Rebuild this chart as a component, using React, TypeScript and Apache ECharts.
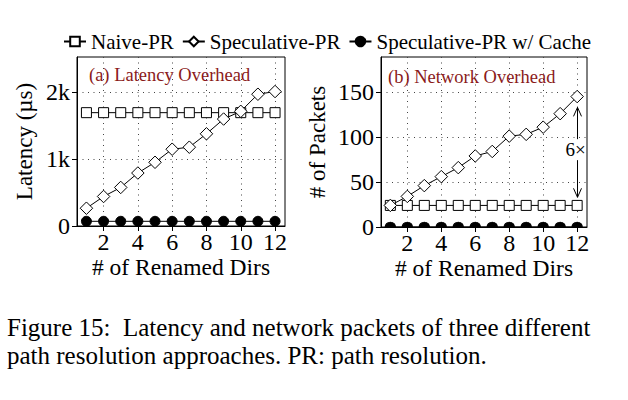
import React, { useEffect, useRef } from "react";
import * as echarts from "echarts";

const dirs = [1, 2, 3, 4, 5, 6, 7, 8, 9, 10, 11, 12];
const latencyNaive = [1690, 1690, 1690, 1690, 1690, 1690, 1690, 1690, 1690, 1690, 1690, 1690];
const latencySpec = [265, 440, 575, 790, 950, 1145, 1175, 1375, 1595, 1710, 1965, 2005];
const latencyCache = [70, 70, 70, 70, 70, 70, 70, 70, 70, 70, 70, 70];
const packetsNaive = [24, 24, 24, 24, 24, 24, 24, 24, 24, 24, 24, 24];
const packetsSpec = [24, 34, 46, 56, 66, 79, 84, 101, 103, 111, 126, 145];
const packetsCache = [0, 0, 0, 0, 0, 0, 0, 0, 0, 0, 0, 0];
const xTicks = [2, 4, 6, 8, 10, 12];
const latencyTicks = [0, 1000, 2000];
const packetTicks = [0, 50, 100, 150];
const seriesNames = ["Naive-PR", "Speculative-PR", "Speculative-PR w/ Cache"];
const panelTitles = ["(a) Latency Overhead", "(b) Network Overhead"];
const yNames = ["Latency (\u00b5s)", "# of Packets"];
const xName = "# of Renamed Dirs";
const arrowX = 12;
const arrowTop = 133;
const arrowBottom = 33;
const ratioY = 86;
const ratioLabel = "6\u00d7";
const captionLines = [
  "Figure 15:\u00a0 Latency and network packets of three different",
  "path resolution approaches. PR: path resolution.",
];

const FONT = "'Liberation Serif', 'Times New Roman', serif";
const HALF_CIRCLE = "path://M0,10A10,10,0,0,1,20,10Z";

function pairs(vals: number[]) {
  return dirs.map((d, i) => [d, vals[i]]);
}

function hollow(name: string, gi: number, vals: number[], symbol: string, size: number) {
  return {
    type: "line",
    name,
    xAxisIndex: gi,
    yAxisIndex: gi,
    data: pairs(vals),
    symbol,
    symbolSize: size,
    showAllSymbol: true,
    lineStyle: { color: "#000", width: 1 },
    itemStyle: { color: "#fff", borderColor: "#000", borderWidth: 1 },
    emphasis: { disabled: true },
  };
}

function filled(name: string, gi: number, vals: number[], symbol: string, size: any, offset: any) {
  return {
    type: "line",
    name,
    xAxisIndex: gi,
    yAxisIndex: gi,
    data: pairs(vals),
    symbol,
    symbolSize: size,
    symbolOffset: offset,
    showAllSymbol: true,
    lineStyle: { color: "#000", width: 1 },
    itemStyle: { color: "#000", borderColor: "#000", borderWidth: 1 },
    emphasis: { disabled: true },
  };
}

function xAxisFor(gi: number) {
  return {
    type: "value",
    gridIndex: gi,
    min: 0.45,
    max: 12.58,
    name: xName,
    nameLocation: "middle",
    nameGap: 29,
    nameTextStyle: { fontFamily: FONT, fontSize: 23.5, color: "#000" },
    axisLine: { show: true, lineStyle: { color: "#000", width: 1 } },
    axisTick: { show: true, customValues: xTicks, length: 5, lineStyle: { color: "#000" } },
    axisLabel: { customValues: xTicks, fontFamily: FONT, fontSize: 24, color: "#000", margin: 4 },
    splitLine: { show: true, lineStyle: { color: "#444", type: [1, 4.5], width: 1 } },
  };
}

function yAxisFor(gi: number, max: number, ticks: number[], name: string, gap: number, fmt: any) {
  return {
    type: "value",
    gridIndex: gi,
    min: 0,
    max,
    name,
    nameLocation: "middle",
    nameGap: gap,
    nameRotate: 90,
    nameTextStyle: { fontFamily: FONT, fontSize: 23, color: "#000" },
    axisLine: { show: true, lineStyle: { color: "#000", width: 1 } },
    axisTick: { show: true, customValues: ticks, length: 5, lineStyle: { color: "#000" } },
    axisLabel: { customValues: ticks, formatter: fmt, fontFamily: FONT, fontSize: 24, color: "#000", margin: 7 },
    splitLine: { show: true, lineStyle: { color: "#444", type: [1, 4.5], width: 1 } },
  };
}

export default function App() {
  const ref = useRef<HTMLDivElement>(null);
  useEffect(() => {
    if (!ref.current) return;
    const chart = echarts.init(ref.current, null, { renderer: "svg" });
    chart.setOption({
      animation: false,
      backgroundColor: "#fff",
      legend: {
        left: 63,
        top: 31,
        itemWidth: 22,
        itemHeight: 12,
        itemGap: 8,
        padding: 0,
        data: seriesNames,
        textStyle: { fontFamily: FONT, fontSize: 21, color: "#000" },
      },
      title: [
        {
          text: panelTitles[0],
          left: 89,
          top: 65,
          padding: 0,
          textStyle: { fontFamily: FONT, fontSize: 18.5, fontWeight: "normal", color: "#8b1a1a" },
        },
        {
          text: panelTitles[1],
          left: 388,
          top: 67,
          padding: 0,
          textStyle: { fontFamily: FONT, fontSize: 18.5, fontWeight: "normal", color: "#8b1a1a" },
        },
      ],
      grid: [
        { left: 77, top: 57, width: 208, height: 169, show: true, borderColor: "#000", borderWidth: 1, backgroundColor: "transparent" },
        { left: 381, top: 57, width: 206, height: 170, show: true, borderColor: "#000", borderWidth: 1, backgroundColor: "transparent" },
      ],
      xAxis: [xAxisFor(0), xAxisFor(1)],
      yAxis: [
        yAxisFor(0, 2520, latencyTicks, yNames[0], 41, (v: number) => (v === 0 ? "0" : v / 1000 + "k")),
        yAxisFor(1, 189, packetTicks, yNames[1], 52, (v: number) => String(v)),
      ],
      series: [
        hollow(seriesNames[0], 0, latencyNaive, "rect", 10),
        hollow(seriesNames[1], 0, latencySpec, "diamond", 12.5),
        filled(seriesNames[2], 0, latencyCache, "circle", 10, [0, 0]),
        hollow(seriesNames[0], 1, packetsNaive, "rect", 10),
        hollow(seriesNames[1], 1, packetsSpec, "diamond", 12.5),
        filled(seriesNames[2], 1, packetsCache, HALF_CIRCLE, [10, 5], [0, -2.5]),
      ],
    });

    const top = chart.convertToPixel({ gridIndex: 1 }, [arrowX, arrowTop]) as number[];
    const bot = chart.convertToPixel({ gridIndex: 1 }, [arrowX, arrowBottom]) as number[];
    const mid = chart.convertToPixel({ gridIndex: 1 }, [arrowX, ratioY]) as number[];
    const ax = Math.round(top[0]) + 0.5;
    chart.setOption({
      graphic: [
        { type: "line", shape: { x1: ax, y1: top[1], x2: ax, y2: bot[1] }, style: { stroke: "#000", lineWidth: 1 }, z: 10 },
        {
          type: "polyline",
          shape: { points: [[ax - 4, top[1] + 9], [ax, top[1]], [ax + 4, top[1] + 9]] },
          style: { stroke: "#000", fill: "none", lineWidth: 1 },
          z: 10,
        },
        {
          type: "polyline",
          shape: { points: [[ax - 4, bot[1] - 9], [ax, bot[1]], [ax + 4, bot[1] - 9]] },
          style: { stroke: "#000", fill: "none", lineWidth: 1 },
          z: 10,
        },
        {
          type: "text",
          x: ax - 2,
          y: mid[1],
          z: 11,
          style: {
            text: ratioLabel,
            fontFamily: FONT,
            fontSize: 19,
            fill: "#000",
            align: "center",
            verticalAlign: "middle",
            backgroundColor: "#fff",
            padding: [1, 0],
          },
        },
        {
          type: "text",
          x: 7,
          y: 327,
          style: { text: captionLines[0], fontFamily: FONT, fontSize: 25, fill: "#000", align: "left", verticalAlign: "middle" },
        },
        {
          type: "text",
          x: 7,
          y: 355,
          style: { text: captionLines[1], fontFamily: FONT, fontSize: 25, fill: "#000", align: "left", verticalAlign: "middle" },
        },
      ],
    });
    return () => chart.dispose();
  }, []);
  return (
    <div
      ref={ref}
      style={{ position: "absolute", left: 0, top: 0, width: 628, height: 400 }}
    />
  );
}
